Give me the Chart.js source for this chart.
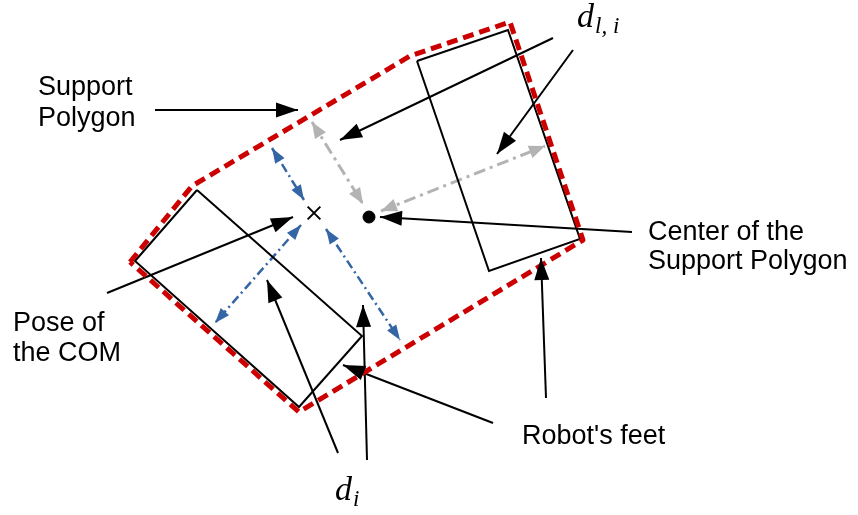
<!DOCTYPE html>
<html>
<head>
<meta charset="utf-8">
<script src="https://cdn.jsdelivr.net/npm/chart.js@4"></script>
<style>
  html, body { margin: 0; padding: 0; background: #fff; }
  #wrap { width: 858px; height: 515px; }
</style>
</head>
<body>
<div id="wrap"><canvas id="diagram" width="858" height="515"></canvas></div>
<script>
// outline of the support polygon and the two feet (diagram units, y grows down)
const supportPolygon = [[130,262],[192,186],[410,56],[510,22],[583,240],[299,412]]
const leftFoot = [[197,190],[135,261],[299,407],[362,336]]
const rightFoot = [[417,61],[508,30],[580,239],[489,271]]

const comPose = [314,213]
const polygonCenter = [369,217]

// distances to the edges (double headed)
const edgeDistCom = [
  [[272,148],[304,200]],
  [[301,225],[215,323]],
  [[326,229],[400,340]]
]
const edgeDistCenter = [
  [[312,122],[363,204]],
  [[381,211],[545,146]]
]

// callout arrows, tip at second point
const callouts = [
  [[155,110],[298,110]],
  [[553,38],[340,140]],
  [[573,50],[497,154]],
  [[632,232],[380,217]],
  [[107,293],[293,217]],
  [[338,453],[267,280]],
  [[367,460],[363,305]],
  [[493,423],[343,365]],
  [[546,398],[541,258]]
]

const labelTexts = ['Support', 'Polygon', 'Center of the', 'Support Polygon', 'Pose of', 'the COM', "Robot's feet"]
const labelAnchors = [[38,95],[38,126],[648,240],[648,269],[13,331],[13,361],[522,444]]
const mathLabels = [['d', 'l, i'], ['d', 'i']]
const mathAnchors = [[577,27],[335,500]]

const pts = arr => arr.map(p => ({x: p[0], y: p[1]}))
const closed = arr => pts(arr.concat([arr[0]]))

const datasets = []
datasets.push({data: closed(supportPolygon), borderColor: '#cc0000', borderWidth: 5, borderDash: [11, 6], borderJoinStyle: 'round'})
datasets.push({data: closed(leftFoot), borderColor: '#000', borderWidth: 2})
datasets.push({data: closed(rightFoot), borderColor: '#000', borderWidth: 2})
edgeDistCom.forEach(s => datasets.push({data: pts(s), borderColor: '#3465a4', borderWidth: 2.5, borderDash: [9, 4, 2, 4], arrow: 'both', headLen: 15, headW: 5.5}))
edgeDistCenter.forEach(s => datasets.push({data: pts(s), borderColor: '#b3b3b3', borderWidth: 3, borderDash: [12, 5, 3, 5], arrow: 'both', headLen: 16, headW: 6.5}))
callouts.forEach(s => datasets.push({data: pts(s), borderColor: '#000', borderWidth: 2, arrow: 'end', headLen: 22, headW: 7.5}))
datasets.push({data: pts([comPose]), showLine: false, pointStyle: 'crossRot', pointRadius: 9, borderColor: '#000', borderWidth: 2})
datasets.push({data: pts([polygonCenter]), showLine: false, pointStyle: 'circle', pointRadius: 6, backgroundColor: '#000', borderColor: '#000', borderWidth: 1})

datasets.forEach(d => {
  if (d.showLine === undefined) { d.showLine = true; d.pointRadius = 0 }
  d.fill = false
  d.tension = 0
  d.pointHoverRadius = d.pointRadius
})

const arrowHeads = {
  id: 'arrowHeads',
  afterDatasetsDraw(chart) {
    const c = chart.ctx
    chart.data.datasets.forEach((ds, i) => {
      if (!ds.arrow) return
      const pe = chart.getDatasetMeta(i).data
      const a = pe[0], b = pe[pe.length - 1]
      const head = (from, to) => {
        const ang = Math.atan2(to.y - from.y, to.x - from.x)
        c.save()
        c.translate(to.x, to.y)
        c.rotate(ang)
        c.beginPath()
        c.moveTo(0, 0)
        c.lineTo(-ds.headLen, -ds.headW)
        c.lineTo(-ds.headLen, ds.headW)
        c.closePath()
        c.fillStyle = ds.borderColor
        c.fill()
        c.restore()
      }
      head(a, b)
      if (ds.arrow === 'both') head(b, a)
    })
  }
}

const labels = {
  id: 'labels',
  afterDraw(chart) {
    const c = chart.ctx
    const sx = chart.scales.x, sy = chart.scales.y
    c.save()
    c.fillStyle = '#000'
    c.textBaseline = 'alphabetic'
    c.textAlign = 'left'
    c.font = '27px "Liberation Sans", Arial, sans-serif'
    labelTexts.forEach((t, i) => {
      c.fillText(t, sx.getPixelForValue(labelAnchors[i][0]), sy.getPixelForValue(labelAnchors[i][1]))
    })
    mathLabels.forEach((m, i) => {
      const x = sx.getPixelForValue(mathAnchors[i][0]), y = sy.getPixelForValue(mathAnchors[i][1])
      c.font = 'italic 34px "Liberation Serif", "DejaVu Serif", serif'
      c.fillText(m[0], x, y)
      const w = c.measureText(m[0]).width
      c.font = 'italic 23px "Liberation Serif", "DejaVu Serif", serif'
      c.fillText(m[1], x + w + 1, y + 6)
    })
    c.restore()
  }
}

new Chart(document.getElementById('diagram'), {
  type: 'scatter',
  data: {datasets: datasets},
  options: {
    responsive: false,
    animation: false,
    events: [],
    layout: {padding: 0, autoPadding: false},
    scales: {
      x: {type: 'linear', min: 0, max: 858, display: false},
      y: {type: 'linear', min: 0, max: 515, reverse: true, display: false}
    },
    plugins: {legend: {display: false}, tooltip: {enabled: false}}
  },
  plugins: [arrowHeads, labels]
})
</script>
</body>
</html>
